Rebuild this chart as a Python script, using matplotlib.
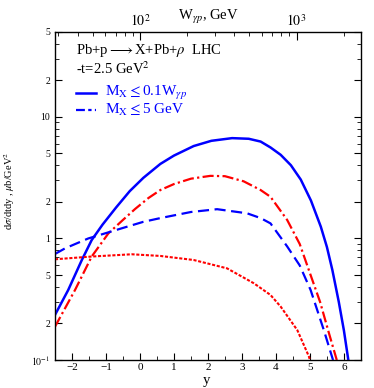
import numpy as np
import matplotlib
matplotlib.use('Agg')
import matplotlib.pyplot as plt
from matplotlib.ticker import FixedLocator, NullFormatter

# values (rapidity y, d sigma/dt dy)
y_solid_blue = [-2.5, -2.11, -1.71, -1.42, -1.1, -0.7, -0.3, 0.1, 0.6, 1.0, 1.58, 2.1, 2.71,
                3.2, 3.55, 3.84, 4.14, 4.44, 4.73, 5.03, 5.32, 5.5, 5.66, 5.85, 6.0, 6.13]
v_solid_blue = [0.235, 0.377, 0.665, 0.97, 1.3, 1.8, 2.45, 3.15, 4.1, 4.8, 5.75, 6.35, 6.68,
                6.6, 6.26, 5.6, 4.87, 4.0, 3.05, 2.05, 1.25, 0.85, 0.55, 0.3, 0.175, 0.1]

y_dashdot_red = [-2.5, -1.91, -1.42, -0.93, -0.5, -0.14, 0.25, 0.6, 1.0, 1.5, 2.07, 2.5,
                 3.05, 3.55, 3.84, 4.33, 4.7, 5.02, 5.3, 5.55, 5.79]
v_dashdot_red = [0.188, 0.377, 0.71, 1.1, 1.42, 1.75, 2.15, 2.5, 2.8, 3.1, 3.27, 3.25,
                 2.95, 2.5, 2.2, 1.42, 0.9, 0.5, 0.3, 0.17, 0.1]

y_dashed_blue = [-2.5, -2.2, -1.52, -0.5, 0.1, 0.6, 1.5, 2.27, 3.15, 3.55, 3.84, 4.33, 4.7,
                 5.02, 5.41, 5.68]
v_dashed_blue = [0.745, 0.83, 1.0, 1.22, 1.37, 1.47, 1.65, 1.74, 1.61, 1.47, 1.33, 0.86, 0.6,
                 0.377, 0.176, 0.1]

y_dotted_red = [-2.5, -1.42, -0.24, 0.6, 1.58, 2.56, 3.35, 3.84, 4.14, 4.63, 4.97, 5.0]
v_dotted_red = [0.674, 0.71, 0.741, 0.718, 0.665, 0.568, 0.428, 0.343, 0.275, 0.176, 0.107, 0.1]

x_ticks = [-2, -1, 0, 1, 2, 3, 4, 5, 6]
y_ticks = [0.1, 0.2, 0.5, 1, 2, 5, 10, 20, 50]
y_ticklabels = ['$10^{-1}$', '2', '5', '1', '2', '5', '10', '2', '5']

plt.rcParams['font.family'] = ['Liberation Serif', 'DejaVu Serif']
plt.rcParams['mathtext.fontset'] = 'stix'

fig = plt.figure(figsize=(3.74, 3.88), dpi=100)
ax = fig.add_axes([0.147, 0.072, 0.818, 0.846])

blue = '#0000ff'
red = '#ff0000'
ax.plot(y_solid_blue, v_solid_blue, color=blue, lw=1.8, ls='-')
ax.plot(y_dashdot_red, v_dashdot_red, color=red, lw=1.6, dashes=(5, 1.5, 1, 1.5))
ax.plot(y_dashed_blue, v_dashed_blue, color=blue, lw=1.6, dashes=(5, 2.5))
ax.plot(y_dotted_red, v_dotted_red, color=red, lw=1.5, dashes=(1.5, 0.8))

ax.set_yscale('log')
ax.set_xlim(-2.5, 6.5)
ax.set_ylim(0.1, 50)

ax.yaxis.set_major_locator(FixedLocator(y_ticks))
ax.set_yticklabels(y_ticklabels)
minor = [m * 10.0 ** e for e in (-1, 0, 1) for m in range(2, 10)]
ax.yaxis.set_minor_locator(FixedLocator(minor))
ax.yaxis.set_minor_formatter(NullFormatter())
ax.set_xticks(x_ticks)
ax.set_xticks(np.arange(-2.5, 6.6, 0.5), minor=True)

ax.tick_params(which='both', direction='in', top=False, right=True)
ax.tick_params(axis='y', labelsize=7)
ax.tick_params(axis='x', labelsize=8, pad=2)
ax.tick_params(which='major', length=5, width=0.8)
ax.tick_params(which='minor', length=3, width=0.6)
for sp in ax.spines.values():
    sp.set_linewidth(1.0)
    sp.set_color('#444444')

fig.text(0.553, 0.003, 'y', fontsize=10.5, ha='center', va='bottom')
ax.set_ylabel(r'd$\sigma$/dtdy , $\mu$b/GeV$^2$', fontsize=7.5)
ax.yaxis.set_label_coords(-0.125, 0.515)

# top axis: W_gamma p = 100 exp(y/2)
ax2 = ax.twiny()
ax2.set_xscale('log')
ax2.set_xlim(100 * np.exp(-2.5 / 2), 100 * np.exp(6.5 / 2))
ax2.tick_params(which='both', direction='in', labelsize=10, pad=2)
ax2.tick_params(which='major', length=6)
ax2.tick_params(which='minor', length=3)
ax2.set_xticks([100, 1000])
ax2.set_xticklabels(['$10^2$', '$10^3$'])
ax2.text(0.5, 1.046, r'W$_{\gamma p}$, GeV', transform=ax.transAxes,
         ha='center', va='center', fontsize=10.5)

ax.text(0.07, 0.968,
        'Pb+p$\\longrightarrow$X+Pb+$\\rho$  LHC\n-t=2.5 GeV$^2$',
        transform=ax.transAxes, fontsize=10.5, va='top', linespacing=1.05)

ax.plot([0.07, 0.134], [0.814, 0.814], transform=ax.transAxes, color=blue, lw=1.8)
ax.plot([0.07, 0.134], [0.762, 0.762], transform=ax.transAxes, color=blue, lw=1.6,
        dashes=(4, 1.5, 1.5, 1.5))
ax.text(0.163, 0.814, r'M$_\mathrm{X}$$\leq$0.1W$_{\gamma p}$', transform=ax.transAxes,
        fontsize=11, va='center', color=blue)
ax.text(0.163, 0.762, r'M$_\mathrm{X}$$\leq$5 GeV', transform=ax.transAxes,
        fontsize=11, va='center', color=blue)

fig.savefig('out.png', dpi=100)
